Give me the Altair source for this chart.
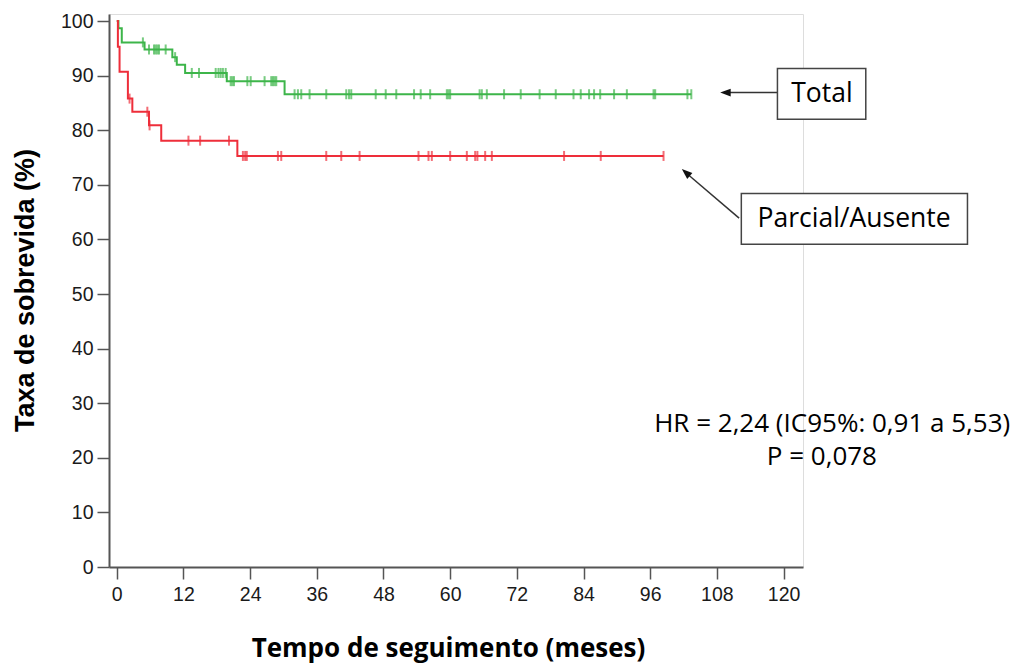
import altair as alt
import pandas as pd
import numpy as np

# Kaplan-Meier step data (months, survival %)
g_times = [0, 0.3, 0.9, 5.0, 10.0, 10.8, 12.3, 19.8, 30.2, 103.4]
g_surv = [100, 98.7, 96.1, 94.8, 93.4, 92.0, 90.5, 89.0, 86.6, 86.6]
r_times = [0, 0.2, 0.5, 2.0, 2.8, 5.8, 8.0, 21.7, 98.4]
r_surv = [100, 95.3, 90.7, 85.8, 83.4, 80.9, 78.1, 75.3, 75.3]

g_cens = [4.7, 5.8, 6.7, 7.0, 7.3, 7.6, 8.8, 10.5, 13.5, 14.8, 17.8, 18.3, 18.7, 19.1, 19.6,
          20.5, 20.8, 21.1, 23.5, 24.1, 26.6, 27.8, 28.1, 28.4, 28.7, 32.0, 32.6, 33.2, 34.7,
          37.7, 41.3, 41.8, 42.2, 46.6, 48.4, 50.3, 53.5, 54.7, 56.4, 59.4, 59.7, 60.0, 65.3,
          65.7, 66.6, 69.7, 72.7, 76.1, 79.0, 82.2, 83.5, 85.0, 85.9, 87.0, 89.5, 91.8, 96.6,
          96.9, 102.7, 103.4]
r_cens = [2.3, 5.5, 5.9, 12.9, 15.0, 20.2, 22.7, 23.1, 23.4, 29.0, 29.6, 37.7, 40.4, 43.7,
          54.3, 56.1, 56.7, 60.0, 63.0, 64.5, 64.9, 66.3, 67.5, 80.5, 87.1, 98.4]

x_ticks = [0, 12, 24, 36, 48, 60, 72, 84, 96, 108, 120]
y_ticks = [0, 10, 20, 30, 40, 50, 60, 70, 80, 90, 100]

GREEN = "#3DB54A"
RED = "#EE2E3A"


def level(times, surv, t):
    idx = max(i for i, tt in enumerate(times) if tt <= t)
    return surv[idx]


lines = pd.DataFrame(
    [{"t": t, "s": s, "g": "Total", "o": i} for i, (t, s) in enumerate(zip(g_times, g_surv))]
    + [{"t": t, "s": s, "g": "Parcial/Ausente", "o": i} for i, (t, s) in enumerate(zip(r_times, r_surv))]
)
cens = pd.DataFrame(
    [{"t": t, "s": level(g_times, g_surv, t), "g": "Total"} for t in g_cens]
    + [{"t": t, "s": level(r_times, r_surv, t), "g": "Parcial/Ausente"} for t in r_cens]
)

xs = alt.Scale(domain=[-1.4, 123.5], nice=False, zero=False)
ys = alt.Scale(domain=[0, 101.3], nice=False, zero=False)
cs = alt.Scale(domain=["Total", "Parcial/Ausente"], range=[GREEN, RED])

xax = alt.Axis(values=x_ticks, title="Tempo de seguimento (meses)", grid=False,
               labelFont="Liberation Sans", labelFontSize=19.5, labelColor="#1a1a1a", labelPadding=6,
               tickSize=12, tickColor="#555", tickWidth=1.5,
               domainColor="#555", domainWidth=2,
               titleFont="Open Sans", titleFontSize=26, titleFontWeight="bold", titleColor="#000",
               titleX=339, titleY=89, titleBaseline="alphabetic", titleAnchor="middle")
yax = alt.Axis(values=y_ticks, title="Taxa de sobrevida (%)", grid=False,
               labelFont="Liberation Sans", labelFontSize=19.5, labelColor="#1a1a1a", labelPadding=4,
               tickSize=12, tickColor="#555", tickWidth=1.5,
               domainColor="#555", domainWidth=2,
               titleFont="Liberation Sans", titleFontSize=27, titleFontWeight="bold", titleColor="#000",
               titleX=-84, titleY=276, titleBaseline="middle", titleAngle=270)

base_lines = alt.Chart(lines).mark_line(interpolate="step-after", strokeWidth=2).encode(
    x=alt.X("t:Q", scale=xs, axis=xax),
    y=alt.Y("s:Q", scale=ys, axis=yax),
    color=alt.Color("g:N", scale=cs, legend=None),
    detail="g:N",
    order="o:Q",
)

ticks = alt.Chart(cens).mark_tick(orient="vertical", size=10, thickness=2).encode(
    x=alt.X("t:Q", scale=xs),
    y=alt.Y("s:Q", scale=ys),
    color=alt.Color("g:N", scale=cs, legend=None),
)

# annotations (data units)
boxes = pd.DataFrame([
    {"x1": 118.9, "x2": 134.8, "y1": 82.0, "y2": 91.3},
    {"x1": 112.4, "x2": 153.1, "y1": 59.1, "y2": 68.4},
])
box_labels = pd.DataFrame([
    {"x": 126.9, "y": 86.7, "txt": "Total"},
    {"x": 132.7, "y": 63.8, "txt": "Parcial/Ausente"},
])
arrows = pd.DataFrame([
    {"x1": 118.9, "y1": 86.9, "x2": 110.0, "y2": 86.9, "tx": 108.6, "ty": 86.9, "ang": 0},
    {"x1": 112.0, "y1": 63.9, "x2": 102.9, "y2": 71.8, "tx": 101.7, "ty": 72.9, "ang": 41},
])
stats = pd.DataFrame([
    {"x": 160.8, "y": 24.8, "txt": "HR = 2,24 (IC95%: 0,91 a 5,53)"},
])
stats2 = pd.DataFrame([
    {"x": 126.9, "y": 18.6, "txt": "P = 0,078"},
])

rects = alt.Chart(boxes).mark_rect(fill="white", stroke="#444", strokeWidth=1.5).encode(
    x=alt.X("x1:Q", scale=xs), x2="x2:Q", y=alt.Y("y1:Q", scale=ys), y2="y2:Q")
rtext = alt.Chart(box_labels).mark_text(font="Open Sans", fontSize=26.5, color="#000",
                                         baseline="middle", align="center").encode(
    x=alt.X("x:Q", scale=xs), y=alt.Y("y:Q", scale=ys), text="txt:N")
arr_lines = alt.Chart(arrows).mark_rule(color="#333", strokeWidth=1.5).encode(
    x=alt.X("x1:Q", scale=xs), x2="x2:Q", y=alt.Y("y1:Q", scale=ys), y2="y2:Q")
arr_heads = alt.Chart(arrows).mark_point(shape="M0,0L2,-0.75L2,0.75Z", filled=True, color="#111",
                                         size=110, opacity=1).encode(
    x=alt.X("tx:Q", scale=xs), y=alt.Y("ty:Q", scale=ys), angle=alt.Angle("ang:Q", scale=None))
hr = alt.Chart(stats).mark_text(font="Open Sans", fontSize=26, color="#000",
                                baseline="alphabetic", align="right").encode(
    x=alt.X("x:Q", scale=xs), y=alt.Y("y:Q", scale=ys), text="txt:N")
pv = alt.Chart(stats2).mark_text(font="Open Sans", fontSize=26, color="#000",
                                 baseline="alphabetic", align="center").encode(
    x=alt.X("x:Q", scale=xs), y=alt.Y("y:Q", scale=ys), text="txt:N")

chart = alt.layer(base_lines, ticks, arr_lines, arr_heads, rects, rtext, hr, pv).properties(
    width=694, height=553,
    padding={"left": 101, "top": 6, "right": 208, "bottom": 98},
    autosize=alt.AutoSizeParams(type="none"),
).configure_view(strokeWidth=0).configure(background="white")

chart.save("out.html", embed_options={"renderer": "svg", "actions": False})
